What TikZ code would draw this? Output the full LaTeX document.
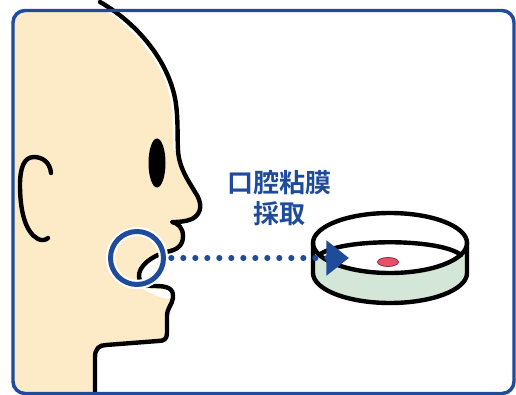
\documentclass[tikz,border=0pt]{standalone}
\usepackage{fontspec}
\newfontfamily\cjk{Noto Sans CJK JP}[BoldFont={Noto Sans CJK JP Bold}]
\usetikzlibrary{arrows.meta}

\definecolor{frameblue}{RGB}{30,76,155}
\definecolor{skin}{RGB}{253,235,199}
\definecolor{dishgreen}{RGB}{212,230,216}
\definecolor{sample}{RGB}{230,80,105}

\tikzset{
  outline/.style={line width=3.3pt, line cap=round, line join=round},
  halo/.style={draw=white, line width=7pt},
}

% crown of the head
\newcommand{\crown}{(100,2) .. controls (135,22) and (163,55) .. (173,90)
  .. controls (179,110) and (177,135) .. (178,150)}
% rest of the profile: nose, lips, chin, neck
\newcommand{\profile}{\crown
  .. controls (179,168) and (188,180) .. (195,192)
  .. controls (202,202) and (203,213) .. (192,219)
  .. controls (185,222) and (177,222) .. (172,222)
  .. controls (178,223) and (183,228) .. (183,236)
  .. controls (183,246) and (177,250) .. (166,252)
  .. controls (152,256) and (138,266) .. (139,277)
  .. controls (140,284) and (146,286) .. (155,286)
  .. controls (167,286) and (174,288) .. (173,298)
  .. controls (172,305) and (167,308) .. (167,316) -- (167,333)
  .. controls (167,339) and (164,341) .. (158,341) -- (106,345)
  .. controls (99,345) and (95,349) .. (95,357) -- (95,400)}

\begin{document}
\begin{tikzpicture}[x=0.75pt, y=-0.75pt]
    \useasboundingbox (0,0) rectangle (516,395);

    % face
    \begin{scope}
        \clip[rounded corners=9pt] (13,10.5) rectangle (514,393.5);
        \fill[skin] (0,0) -- (100,0) -- \profile -- (0,400) -- cycle;
    \end{scope}
    \fill[white] (141,288) .. controls (150,293) and (160,298) .. (169,299) -- (172,290) -- cycle;
    \draw[halo] \crown;
    \draw[outline] \profile;

    % ear and eye
    \draw[outline] (51,173) .. controls (50,162) and (42,157) .. (34,157)
        .. controls (24,157) and (20,168) .. (20,185)
        .. controls (20,210) and (25,232) .. (38,239)
        .. controls (42,241) and (46,240) .. (48,238);
    \fill (157,163) ellipse[x radius=8.5, y radius=24.5];

    % petri dish
    \fill[dishgreen] (313,243) arc[start angle=180, end angle=0, x radius=77, y radius=30]
        -- (467,273) arc[start angle=0, end angle=180, x radius=77, y radius=30] -- cycle;
    \draw[outline] (390,243) ellipse[x radius=77, y radius=30];
    \draw[outline] (313,243) -- (313,273) arc[start angle=180, end angle=0, x radius=77, y radius=30] -- (467,243);
    \draw[outline] (319,255) .. controls (340,238) and (440,238) .. (461,255);
    \filldraw[fill=sample, draw=sample!60!black, line width=0.6pt] (388,262) ellipse[x radius=10.5, y radius=4.5];

    % sampling spot and arrow to the dish
    \node[circle, draw=frameblue, line width=3.75pt, minimum size=39.75pt, inner sep=0pt,
          preaction={draw=white, line width=7pt}] (mouth) at (137,258) {};
    \coordinate (arrowtip) at (349,258);
    \draw[frameblue, line width=4.6pt, line cap=round, dash pattern=on 0pt off 9pt, shorten <=4pt,
          -{Triangle[length=17pt, width=25.5pt]}] (mouth.east) -- (arrowtip);

    \node[font=\cjk\bfseries\fontsize{19.5pt}{23.6pt}\selectfont, text=frameblue, align=center]
        (caption) at (279,198) {口腔粘膜\\採取};

    % frame
    \draw[frameblue, line width=2.6pt, rounded corners=9pt] (13,10.5) rectangle (514,393.5);
\end{tikzpicture}
\end{document}
